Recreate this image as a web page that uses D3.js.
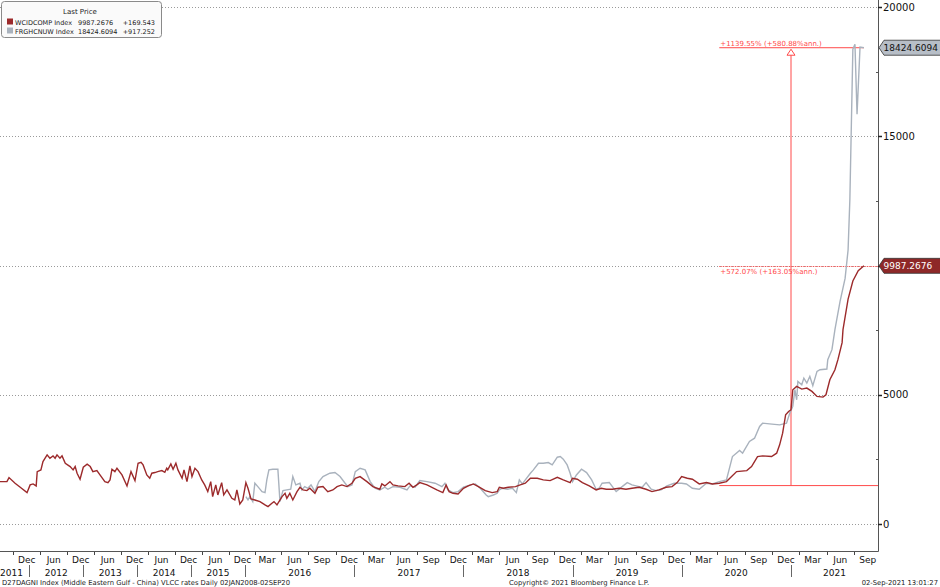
<html>
<head>
<title>VLCC rates</title>
<script src="https://d3js.org/d3.v7.min.js"></script>
<style>
body { margin: 0; background: #fff; }
svg { font-family: "DejaVu Sans", Verdana, sans-serif; }
</style>
</head>
<body>
<script>
// WCIDCOMP Index (dark red)
var wcidDates = [
 "2011-06-17","2011-08-03","2011-08-17","2011-09-27","2011-11-01","2011-12-17",
 "2012-01-07","2012-01-27","2012-02-17","2012-02-24","2012-03-20","2012-04-03","2012-05-01","2012-05-20","2012-06-10","2012-06-24","2012-07-07","2012-07-27","2012-08-10","2012-09-01","2012-10-04","2012-10-24","2012-11-07","2012-11-20","2012-12-10",
 "2013-01-01","2013-01-27","2013-02-17","2013-03-07","2013-04-03","2013-04-24","2013-05-27","2013-06-17","2013-07-01","2013-07-14","2013-08-03","2013-08-17","2013-09-20","2013-10-24","2013-11-20","2013-12-17",
 "2014-01-07","2014-01-27","2014-02-10","2014-03-07","2014-03-27","2014-04-10","2014-05-01","2014-05-20","2014-06-17","2014-07-07","2014-07-20","2014-07-27","2014-08-17","2014-09-01","2014-09-20","2014-10-04","2014-11-01","2014-11-14","2014-12-04","2014-12-24",
 "2015-01-07","2015-01-27","2015-02-17","2015-03-14","2015-04-03","2015-04-24","2015-05-14","2015-05-27","2015-06-17","2015-07-01","2015-07-27","2015-08-10","2015-09-01","2015-10-04","2015-10-24","2015-11-07","2015-11-27","2015-12-17",
 "2016-01-04","2016-01-11","2016-01-21","2016-02-03","2016-02-20","2016-03-08","2016-03-18","2016-03-31","2016-04-07","2016-04-17","2016-05-04","2016-05-14","2016-05-20","2016-05-30","2016-06-09","2016-06-23","2016-07-03","2016-07-13","2016-07-26","2016-08-05","2016-08-22","2016-09-01","2016-09-18","2016-10-04","2016-10-21","2016-11-04","2016-11-20","2016-12-07","2016-12-24",
 "2017-01-04","2017-01-20","2017-02-12","2017-03-04","2017-03-27","2017-04-03","2017-04-13","2017-04-30","2017-05-10","2017-05-27","2017-06-19","2017-07-03","2017-07-16","2017-07-29","2017-08-08","2017-09-01","2017-10-04","2017-10-24","2017-11-04","2017-11-14","2017-11-27","2017-12-14",
 "2018-01-01","2018-01-17","2018-02-03","2018-02-20","2018-03-15","2018-04-07","2018-04-24","2018-05-01","2018-05-14","2018-05-31","2018-06-24","2018-07-10","2018-07-27","2018-08-13","2018-09-05","2018-09-25","2018-10-18","2018-11-11","2018-12-01","2018-12-24",
 "2019-01-01","2019-01-17","2019-02-03","2019-02-26","2019-03-21","2019-04-07","2019-04-24","2019-05-14","2019-06-06","2019-06-29","2019-07-19","2019-08-12","2019-09-04","2019-09-24","2019-10-17","2019-11-10","2019-11-30","2019-12-17",
 "2020-01-01","2020-01-20","2020-02-06","2020-02-29","2020-03-24","2020-04-13","2020-05-06","2020-05-30","2020-07-03","2020-08-06","2020-08-22","2020-09-11","2020-09-28","2020-10-28","2020-11-14","2020-11-24","2020-12-04","2020-12-14","2020-12-24",
 "2021-01-01","2021-01-07","2021-01-20","2021-02-06","2021-02-23","2021-03-12","2021-03-29","2021-04-18","2021-04-28","2021-05-11","2021-05-28","2021-06-07","2021-06-21","2021-06-24","2021-07-11","2021-07-27","2021-08-14","2021-09-02"
];
var wcidValues = [
 1640,1640,1795,1577,1422,1213,
 1512,1550,1473,2027,2092,2415,2674,2545,2635,2545,2674,2545,2635,2351,2222,2092,2222,1964,1731,
 2196,2313,2222,2027,2066,1899,1640,1602,1705,2118,2027,2157,1899,1473,2027,1679,
 2351,2390,2286,1899,1770,1964,1990,2027,2066,2000,2157,2092,2325,2118,2351,2092,1770,2092,1640,2247,
 1835,2157,2027,1705,1512,1253,1640,1059,1512,1123,1602,1123,1318,995,930,1318,775,930,
 1602,1383,970,930,866,737,672,801,866,737,1059,1188,995,1188,930,1253,1422,1318,1292,1383,1188,1422,1447,1253,1318,1447,1512,1447,1577,
 1770,1835,1640,1447,1344,1550,1473,1640,1512,1473,1447,1577,1422,1512,1602,1512,1318,1213,1512,1253,1188,1162,
 1383,1473,1550,1447,1292,1213,1253,1422,1383,1422,1447,1512,1577,1770,1770,1705,1679,1808,1705,1602,
 1770,1731,1602,1473,1318,1383,1344,1344,1383,1344,1383,1422,1344,1253,1318,1422,1447,1602,
 1835,1770,1731,1550,1602,1550,1577,1640,2027,2066,2222,2609,2635,2609,2739,3062,3514,4225,4355,
 4420,5194,5323,5220,5258,5130,4935,4910,5000,5582,5969,6357,7015,7519,8700,9400,9800,9987.2676
];

// FRGHCNUW Index (grey)
var frghDates = [
 "2016-01-04","2016-01-11","2016-01-17","2016-01-27","2016-02-03","2016-02-13","2016-02-27","2016-03-08","2016-03-14","2016-03-21","2016-04-03","2016-04-20","2016-04-27","2016-05-07","2016-05-20","2016-06-02","2016-06-09","2016-06-19","2016-07-03","2016-07-09","2016-07-19","2016-07-29","2016-08-09","2016-08-22","2016-09-04","2016-09-18","2016-10-11","2016-10-28","2016-11-14","2016-12-01","2016-12-10","2016-12-24",
 "2017-01-04","2017-01-20","2017-02-06","2017-02-23","2017-03-11","2017-03-27","2017-04-13","2017-04-23","2017-05-10","2017-06-03","2017-06-26","2017-07-06","2017-07-23","2017-08-08","2017-09-01","2017-09-28","2017-10-21","2017-10-31","2017-11-10","2017-11-27","2017-12-14",
 "2018-01-01","2018-01-24","2018-02-10","2018-02-26","2018-03-18","2018-03-25","2018-04-11","2018-04-24","2018-05-01","2018-05-11","2018-05-28","2018-06-14","2018-06-27","2018-07-07","2018-07-17","2018-07-27","2018-08-13","2018-08-23","2018-09-09","2018-09-25","2018-10-12","2018-10-25","2018-11-11","2018-11-21","2018-12-01","2018-12-14","2018-12-24",
 "2019-01-01","2019-01-14","2019-01-31","2019-02-17","2019-03-06","2019-03-21","2019-03-31","2019-04-10","2019-05-04","2019-05-27","2019-06-16","2019-07-03","2019-07-19","2019-08-12","2019-08-22","2019-09-04","2019-09-21","2019-10-08","2019-10-24","2019-11-13","2019-12-07",
 "2020-01-01","2020-01-17","2020-02-06","2020-02-29","2020-03-24","2020-04-13","2020-05-06","2020-05-30","2020-06-19","2020-07-13","2020-07-23","2020-08-15","2020-09-01","2020-09-18","2020-09-28","2020-10-21","2020-11-24","2020-12-17","2020-12-28",
 "2021-01-07","2021-01-14","2021-01-20","2021-01-24","2021-02-06","2021-02-13","2021-02-23","2021-03-05","2021-03-15","2021-03-29","2021-04-08","2021-05-01","2021-05-04","2021-05-18","2021-05-28","2021-06-14","2021-07-01","2021-07-11","2021-07-17","2021-07-27","2021-08-03","2021-08-10","2021-08-20","2021-09-02"
];
var frghValues = [
 1059,930,1059,866,1577,1447,1253,1213,1705,2092,2118,2118,866,1292,1318,1344,1835,1512,1577,1318,1447,1383,1512,1253,1640,1835,1964,1990,1835,1577,1447,1512,
 2027,2157,2092,1640,1383,1318,1422,1344,1447,1422,1318,1473,1422,1679,1640,1577,1447,1577,1318,1213,1253,
 1422,1512,1550,1383,1123,1059,1123,1188,1318,1383,1344,1383,1213,1705,1550,1705,1964,2092,2351,2351,2377,2286,2584,2610,2506,2286,1964,
 1640,1899,2118,1990,1705,1344,1383,1577,1602,1253,1447,1602,1512,1447,1422,1602,1344,1292,1318,1473,1577,
 1577,1550,1383,1344,1577,1550,1640,1705,2609,2842,2739,3191,3320,3772,3901,3875,3836,3901,4290,
 4548,5194,4806,5516,5387,5645,5452,5710,5349,5904,5969,5995,6357,6744,7519,8600,9500,10600,12560,18370,18560,15850,18450,18424.6094
];

var yTicks = [0, 5000, 10000, 15000, 20000];
var yTickLabels = [0, 5000, 15000, 20000];
var legendNames = ["WCIDCOMP Index", "FRGHCNUW Index"];
var legendLast = ["9987.2676", "18424.6094"];
var legendChange = ["+169.543", "+917.252"];
var annoDates = ["2020-05-06", "2021-01-01", "2021-09-02"];
var annoBase = 1486;
var annoLabels = ["+1139.55% (+580.88%ann.)", "+572.07% (+163.05%ann.)"];

var width = 940, height = 587;
var plotRight = 878, plotBottom = 551;
var red = "#9c2a2b", grey = "#a9b2bd", annoRed = "#ff4a4a";

var parse = d3.timeParse("%Y-%m-%d");

var svg = d3.select("body").append("svg")
    .attr("width", width)
    .attr("height", height);

// bloomberg squeezes the early years, so the time scale has two pieces
var x = d3.scaleTime()
    .domain([parse("2011-06-17"), parse("2016-01-01"), parse("2021-01-01")])
    .range([0, 245, 791]);
var y = d3.scaleLinear().domain([0, 20000]).range([524, 7]);

svg.append("clipPath").attr("id", "plot")
    .append("rect").attr("x", 0).attr("y", 0).attr("width", plotRight).attr("height", plotBottom);

// gridlines
svg.append("g").selectAll("line").data(yTicks).enter().append("line")
    .attr("x1", 0).attr("x2", plotRight)
    .attr("y1", function(d) { return Math.round(y(d)) + 0.5; })
    .attr("y2", function(d) { return Math.round(y(d)) + 0.5; })
    .attr("stroke", "#9a9a9a").attr("stroke-dasharray", "1,2");

var g = svg.append("g").attr("clip-path", "url(#plot)");

// annotation
var a0 = x(parse(annoDates[0])), a1 = x(parse(annoDates[1])), a2 = x(parse(annoDates[2]));
g.append("line").attr("x1", a0).attr("x2", plotRight)
    .attr("y1", y(annoBase)).attr("y2", y(annoBase))
    .attr("stroke", annoRed).attr("stroke-width", 1);
g.append("line").attr("x1", a0).attr("x2", a2)
    .attr("y1", y(18424.6094)).attr("y2", y(18424.6094))
    .attr("stroke", annoRed).attr("stroke-width", 1);
g.append("line").attr("x1", a0).attr("x2", plotRight)
    .attr("y1", Math.round(y(9987.2676)) + 0.5).attr("y2", Math.round(y(9987.2676)) + 0.5)
    .attr("stroke", annoRed).attr("stroke-dasharray", "1,1");
g.append("line").attr("x1", a1).attr("x2", a1)
    .attr("y1", y(annoBase)).attr("y2", y(18424.6094) + 7)
    .attr("stroke", annoRed).attr("stroke-width", 1);
g.append("path")
    .attr("d", "M" + a1 + "," + (y(18424.6094) + 1.5) + "l4,6h-8z")
    .attr("fill", "#fff").attr("stroke", annoRed);
g.append("text").attr("x", a0 + 1).attr("y", y(18424.6094) - 2)
    .attr("font-size", "7px").attr("fill", annoRed).text(annoLabels[0]);
g.append("text").attr("x", a0 + 1).attr("y", y(9987.2676) + 8)
    .attr("font-size", "7px").attr("fill", annoRed).text(annoLabels[1]);

function series(dates, values) {
    return dates.map(function(d, i) { return { date: parse(d), value: values[i] }; });
}
var line = d3.line()
    .x(function(d) { return x(d.date); })
    .y(function(d) { return y(d.value); });

g.append("path").datum(series(frghDates, frghValues))
    .attr("d", line).attr("fill", "none").attr("stroke", grey).attr("stroke-width", 1.4);
g.append("path").datum(series(wcidDates, wcidValues))
    .attr("d", line).attr("fill", "none").attr("stroke", red).attr("stroke-width", 1.4);

// frame
svg.append("line").attr("x1", plotRight + 0.5).attr("x2", plotRight + 0.5)
    .attr("y1", 0).attr("y2", plotBottom + 0.5).attr("stroke", "#555");
svg.append("line").attr("x1", 0).attr("x2", plotRight + 0.5)
    .attr("y1", plotBottom + 0.5).attr("y2", plotBottom + 0.5).attr("stroke", "#555");

// right axis
var minor = d3.range(2500, 20000, 5000);
svg.append("g").selectAll("line").data(minor).enter().append("line")
    .attr("x1", plotRight - 2).attr("x2", plotRight)
    .attr("y1", function(d) { return Math.round(y(d)) + 0.5; })
    .attr("y2", function(d) { return Math.round(y(d)) + 0.5; })
    .attr("stroke", "#555");
svg.append("g").selectAll("line").data(yTicks).enter().append("line")
    .attr("x1", plotRight).attr("x2", plotRight + 4)
    .attr("y1", function(d) { return Math.round(y(d)) + 0.5; })
    .attr("y2", function(d) { return Math.round(y(d)) + 0.5; })
    .attr("stroke", "#222").attr("stroke-width", 1.5);
svg.append("g").selectAll("text").data(yTickLabels).enter().append("text")
    .attr("x", plotRight + 5)
    .attr("y", function(d) { return y(d) + 3.5; })
    .attr("font-size", "10px").attr("fill", "#111")
    .text(function(d) { return d; });

// value tags on the axis
function tag(v, fill, txt, label) {
    var cy = y(v);
    svg.append("path")
        .attr("d", "M" + (plotRight + 1) + "," + cy + "L" + (plotRight + 6) + "," + (cy - 7.5) +
              "H" + (width + 2) + "V" + (cy + 7.5) + "H" + (plotRight + 6) + "Z")
        .attr("fill", fill).attr("stroke", "#333").attr("stroke-width", 0.8);
    svg.append("text").attr("x", plotRight + 5.5).attr("y", cy + 3.4)
        .attr("font-size", "9px").attr("fill", txt).text(label);
}
tag(18424.6094, "#b7bec7", "#111", legendLast[1]);
tag(9987.2676, "#8e2828", "#fff", legendLast[0]);

// x axis: month labels mid-month, quarterly after 2016, half-yearly before
var months = d3.timeMonth.range(parse("2011-06-01"), parse("2021-10-01")).filter(function(m) {
    var k = m.getMonth();
    if (m.getFullYear() < 2016) return k === 5 || k === 11;
    return k === 2 || k === 5 || k === 8 || k === 11;
}).map(function(m) { return d3.timeDay.offset(m, 14); })
  .filter(function(m) { return x(m) > 5 && x(m) < plotRight; });

var mx = months.map(function(m) { return x(m); });
var tickX = mx.map(function(p, i) { return i === 0 ? p - (mx[1] - mx[0]) / 2 : (p + mx[i - 1]) / 2; });
tickX.push(mx[mx.length - 1] + (mx[mx.length - 1] - mx[mx.length - 2]) / 2);

svg.append("g").selectAll("line").data(tickX.filter(function(p) { return p > 0 && p < plotRight; }))
    .enter().append("line")
    .attr("x1", function(d) { return Math.round(d) + 0.5; })
    .attr("x2", function(d) { return Math.round(d) + 0.5; })
    .attr("y1", plotBottom + 1).attr("y2", plotBottom + 4)
    .attr("stroke", "#444");

svg.append("g").selectAll("text").data(months).enter().append("text")
    .attr("x", function(d) { return x(d); })
    .attr("y", 563)
    .attr("text-anchor", "middle")
    .attr("font-size", "9px").attr("fill", "#111")
    .text(d3.timeFormat("%b"));

var years = d3.range(2011, 2022);
svg.append("g").selectAll("text").data(years).enter().append("text")
    .attr("x", function(d) {
        var l = Math.max(x(new Date(d, 0, 1)), 0);
        var r = Math.min(x(new Date(d + 1, 0, 1)), plotRight);
        return d === 2011 ? 0 : (l + r) / 2;
    })
    .attr("y", 576)
    .attr("text-anchor", function(d) { return d === 2011 ? "start" : "middle"; })
    .attr("font-size", "9px").attr("fill", "#111")
    .text(function(d) { return d; });
svg.append("g").selectAll("line").data(years.slice(1)).enter().append("line")
    .attr("x1", function(d) { return Math.round(x(new Date(d, 0, 1))) + 0.5; })
    .attr("x2", function(d) { return Math.round(x(new Date(d, 0, 1))) + 0.5; })
    .attr("y1", 565).attr("y2", 577)
    .attr("stroke", "#666");

// footer
svg.append("text").attr("x", 2).attr("y", 585).attr("font-size", "6.8px").attr("fill", "#222")
    .text("D27DAGNI Index (Middle Eastern Gulf - China) VLCC rates  Daily 02JAN2008-02SEP20");
svg.append("text").attr("x", 509).attr("y", 585).attr("font-size", "6.8px").attr("fill", "#222")
    .text("Copyright\u00a9 2021 Bloomberg Finance L.P.");
svg.append("text").attr("x", 938).attr("y", 585).attr("text-anchor", "end")
    .attr("font-size", "6.8px").attr("fill", "#222")
    .text("02-Sep-2021 13:01:27");

// legend
var lg = svg.append("g");
lg.append("rect").attr("x", 1.5).attr("y", 1.5).attr("width", 160).attr("height", 36)
    .attr("rx", 3).attr("fill", "#fafafa").attr("stroke", "#8a8a8a");
lg.append("text").attr("x", 80).attr("y", 14).attr("text-anchor", "middle")
    .attr("font-size", "7px").attr("fill", "#222").text("Last Price");
[red, grey].forEach(function(c, i) {
    var ry = 24.5 + i * 9;
    lg.append("rect").attr("x", 7).attr("y", ry - 6).attr("width", 6).attr("height", 6).attr("fill", c);
    lg.append("text").attr("x", 15).attr("y", ry).attr("font-size", "6.5px").attr("fill", "#222").text(legendNames[i]);
    lg.append("text").attr("x", 78).attr("y", ry).attr("font-size", "6.5px").attr("fill", "#222").text(legendLast[i]);
    lg.append("text").attr("x", 155).attr("y", ry).attr("text-anchor", "end").attr("font-size", "6.5px").attr("fill", "#222").text(legendChange[i]);
});
</script>
</body>
</html>
